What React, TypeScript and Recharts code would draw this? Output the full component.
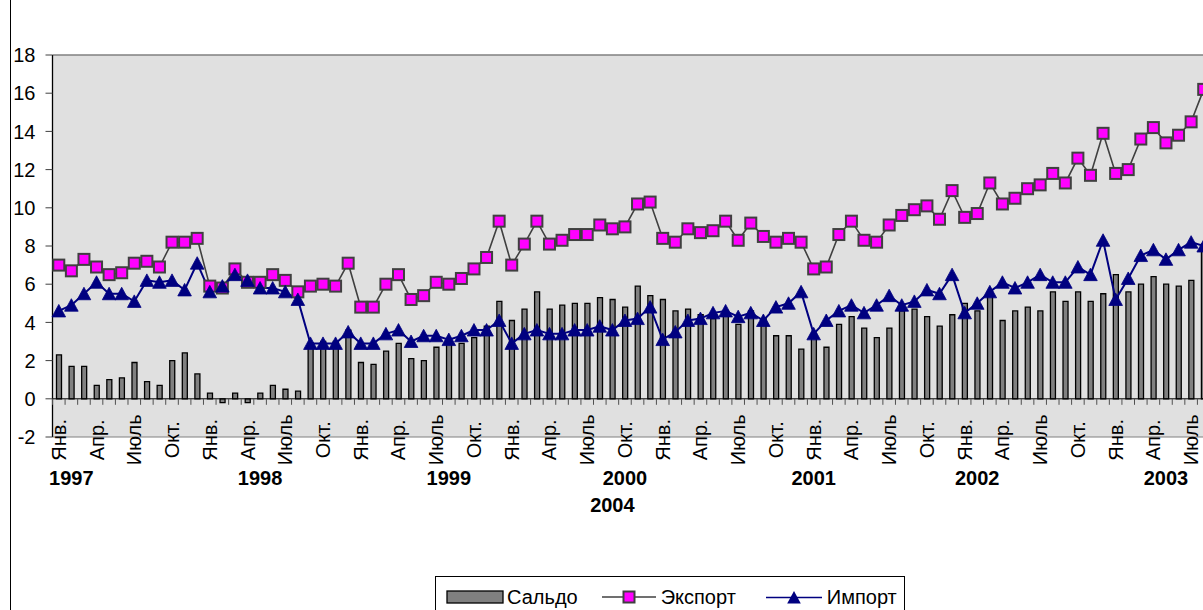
import React from 'react';
import { ComposedChart, Bar, Line, XAxis, YAxis, CartesianGrid, ReferenceLine, Legend } from 'recharts';

// ---- data ----
const years = [1997, 1998, 1999, 2000, 2001, 2002, 2003, 2004];
const monthTickLabels = ['Янв.', '', '', 'Апр.', '', '', 'Июль', '', '', 'Окт.', '', ''];
const monthCount = 92; // Jan 1997 .. Aug 2004

const saldo = [
  2.3, 1.7, 1.7, 0.7, 1.0, 1.1, 1.9, 0.9, 0.7, 2.0, 2.4, 1.3,
  0.3, -0.2, 0.3, -0.2, 0.3, 0.7, 0.5, 0.4, 2.9, 3.0, 3.0, 3.6,
  1.9, 1.8, 2.5, 2.9, 2.1, 2.0, 2.7, 2.9, 2.9, 3.2, 3.8, 5.1,
  4.1, 4.7, 5.6, 4.7, 4.9, 5.0, 5.0, 5.3, 5.2, 4.8, 5.9, 5.4,
  5.2, 4.6, 4.7, 4.4, 4.2, 4.6, 3.9, 4.6, 4.2, 3.3, 3.3, 2.6,
  3.4, 2.7, 3.9, 4.3, 3.7, 3.2, 3.7, 4.6, 4.7, 4.3, 3.8, 4.4,
  5.0, 4.6, 5.6, 4.1, 4.6, 4.8, 4.6, 5.6, 5.1, 5.6, 5.1, 5.5,
  6.5, 5.6, 6.0, 6.4, 6.0, 5.9, 6.2, 8.1,
];
const exportVals = [
  7.0, 6.7, 7.3, 6.9, 6.5, 6.6, 7.1, 7.2, 6.9, 8.2, 8.2, 8.4,
  5.9, 5.8, 6.8, 6.1, 6.1, 6.5, 6.2, 5.6, 5.9, 6.0, 5.9, 7.1,
  4.8, 4.8, 6.0, 6.5, 5.2, 5.4, 6.1, 6.0, 6.3, 6.8, 7.4, 9.3,
  7.0, 8.1, 9.3, 8.1, 8.3, 8.6, 8.6, 9.1, 8.9, 9.0, 10.2, 10.3,
  8.4, 8.2, 8.9, 8.7, 8.8, 9.3, 8.3, 9.2, 8.5, 8.2, 8.4, 8.2,
  6.8, 6.9, 8.6, 9.3, 8.3, 8.2, 9.1, 9.6, 9.9, 10.1, 9.4, 10.9,
  9.5, 9.7, 11.3, 10.2, 10.5, 11.0, 11.2, 11.8, 11.3, 12.6, 11.7, 13.9,
  11.8, 12.0, 13.6, 14.2, 13.4, 13.8, 14.5, 16.2,
];
const importVals = [
  4.6, 4.9, 5.5, 6.1, 5.5, 5.5, 5.1, 6.2, 6.1, 6.2, 5.7, 7.1,
  5.6, 5.9, 6.5, 6.2, 5.8, 5.8, 5.6, 5.2, 2.9, 2.9, 2.9, 3.5,
  2.9, 2.9, 3.4, 3.6, 3.0, 3.3, 3.3, 3.1, 3.3, 3.6, 3.6, 4.1,
  2.9, 3.4, 3.6, 3.4, 3.4, 3.6, 3.6, 3.8, 3.6, 4.1, 4.2, 4.8,
  3.1, 3.5, 4.1, 4.2, 4.5, 4.6, 4.3, 4.5, 4.1, 4.8, 5.0, 5.6,
  3.4, 4.1, 4.6, 4.9, 4.5, 4.9, 5.4, 4.9, 5.1, 5.7, 5.5, 6.5,
  4.5, 5.0, 5.6, 6.1, 5.8, 6.1, 6.5, 6.1, 6.1, 6.9, 6.5, 8.3,
  5.2, 6.3, 7.5, 7.8, 7.3, 7.8, 8.2, 8.0,
];
const yTicks = [-2, 0, 2, 4, 6, 8, 10, 12, 14, 16, 18];
const yearLabels = [
  { index: 1, text: '1997', row: 0 },
  { index: 16, text: '1998', row: 0 },
  { index: 31, text: '1999', row: 0 },
  { index: 45, text: '2000', row: 0 },
  { index: 44, text: '2004', row: 1 },
  { index: 60, text: '2001', row: 0 },
  { index: 73, text: '2002', row: 0 },
  { index: 88, text: '2003', row: 0 },
];
const seriesNames = { saldo: 'Сальдо', exp: 'Экспорт', imp: 'Импорт' };
const legendOrder = ['saldo', 'exp', 'imp'];

const categories: string[] = [];
for (let i = 0; i < monthCount; i++) {
  const y = years[Math.floor(i / 12)];
  const m = (i % 12) + 1;
  categories.push(`${y}-${m < 10 ? '0' + m : m}`);
}
const data = categories.map((c, i) => ({
  cat: c,
  saldo: saldo[i],
  exp: exportVals[i],
  imp: importVals[i],
}));

// ---- layout constants ----
const FONT = '"Liberation Sans", Arial, sans-serif';
const CHART_W = 1212;
const CHART_H = 610;
const PLOT_TOP = 55;
const PLOT_LEFT = 52.5;
const PLOT_RIGHT_MARGIN = 2;
const X_AXIS_H = 173;
const PLOT_H = CHART_H - PLOT_TOP - X_AXIS_H;
const PLOT_W = CHART_W - PLOT_LEFT - PLOT_RIGHT_MARGIN;
const Y_MIN = -2;
const Y_MAX = 18;
const ZERO_OFFSET = (PLOT_H * (0 - Y_MIN)) / (Y_MAX - Y_MIN);
const STEP = PLOT_W / monthCount;

const MonthTick = (props: any) => {
  const { x, y, index } = props;
  const zeroY = y - ZERO_OFFSET;
  const label = monthTickLabels[index % 12];
  const yl = yearLabels.filter((l) => l.index === index);
  const bx = x - STEP / 2;
  return (
    <g>
      <line x1={bx} x2={bx} y1={zeroY} y2={zeroY + 6} stroke="#505050" strokeWidth={1} />
      {label ? (
        <text
          transform={`translate(${x},${zeroY + 41}) rotate(-90)`}
          textAnchor="middle"
          dominantBaseline="central"
          fontSize={20}
          fontFamily={FONT}
          fill="#000"
        >
          {label}
        </text>
      ) : null}
      {yl.map((l) => (
        <text
          key={l.text}
          x={x}
          y={y + (l.row === 0 ? 48 : 75)}
          textAnchor="middle"
          fontSize={20}
          fontWeight="bold"
          fontFamily={FONT}
          fill="#000"
        >
          {l.text}
        </text>
      ))}
    </g>
  );
};

const SquareDot = (props: any) => {
  const { cx, cy } = props;
  if (cx == null || cy == null) return null;
  return <rect x={cx - 5.5} y={cy - 5.5} width={11} height={11} fill="#FF00FF" stroke="#404040" strokeWidth={2} />;
};

const TriangleDot = (props: any) => {
  const { cx, cy } = props;
  if (cx == null || cy == null) return null;
  return (
    <path
      d={`M${cx},${cy - 6.5} L${cx + 6.8},${cy + 6} L${cx - 6.8},${cy + 6} Z`}
      fill="#000080"
      stroke="#000080"
      strokeWidth={0.8}
    />
  );
};

const LegendSymbol = ({ dataKey }: { dataKey: string }) => {
  if (dataKey === 'saldo') {
    return (
      <svg width={58} height={14} style={{ display: 'block' }}>
        <rect x={1} y={1} width={56} height={12} fill="#808080" stroke="#000" strokeWidth={1.3} />
      </svg>
    );
  }
  if (dataKey === 'exp') {
    return (
      <svg width={54} height={14} style={{ display: 'block' }}>
        <line x1={0} x2={54} y1={7} y2={7} stroke="#404040" strokeWidth={1.5} />
        <rect x={21.5} y={1.5} width={11} height={11} fill="#FF00FF" stroke="#404040" strokeWidth={2} />
      </svg>
    );
  }
  return (
    <svg width={56} height={14} style={{ display: 'block' }}>
      <line x1={0} x2={56} y1={7.5} y2={7.5} stroke="#000080" strokeWidth={1.5} />
      <path d="M28,1 L34.8,13.5 L21.2,13.5 Z" fill="#000080" />
    </svg>
  );
};

const renderLegend = (props: any) => {
  const payload = [...(props.payload || [])].sort(
    (a: any, b: any) => legendOrder.indexOf(a.dataKey) - legendOrder.indexOf(b.dataKey)
  );
  return (
    <div
      style={{
        boxSizing: 'border-box',
        width: 470,
        height: 42,
        border: '1px solid #000',
        background: '#fff',
        display: 'flex',
        alignItems: 'center',
        paddingLeft: 10,
        fontFamily: FONT,
        fontSize: 20,
        color: '#000',
      }}
    >
      {payload.map((entry: any, i: number) => (
        <div
          key={entry.dataKey}
          style={{ display: 'flex', alignItems: 'center', marginRight: i === 0 ? 24 : 30 }}
        >
          <LegendSymbol dataKey={entry.dataKey} />
          <span style={{ marginLeft: entry.dataKey === 'saldo' ? 3 : 5 }}>{entry.value}</span>
        </div>
      ))}
    </div>
  );
};

export default function App() {
  return (
    <div
      style={{
        position: 'relative',
        width: 1203,
        height: 610,
        overflow: 'hidden',
        background: '#fff',
        fontFamily: FONT,
      }}
    >
      <style>{'body{margin:0;overflow:hidden}'}</style>
      <div style={{ position: 'absolute', left: 10, top: 0, width: 1, height: 610, background: '#000' }} />
      <ComposedChart
        width={CHART_W}
        height={CHART_H}
        data={data}
        margin={{ top: PLOT_TOP, right: PLOT_RIGHT_MARGIN, bottom: 0, left: 0 }}
        barCategoryGap={0}
      >
        <CartesianGrid horizontal={false} vertical={false} fill="#E0E0E0" />
        <XAxis
          dataKey="cat"
          interval={0}
          height={X_AXIS_H}
          tick={<MonthTick />}
          tickLine={false}
          axisLine={false}
          tickSize={0}
          tickMargin={0}
        />
        <YAxis
          domain={[Y_MIN, Y_MAX]}
          ticks={yTicks}
          interval={0}
          allowDataOverflow
          width={PLOT_LEFT}
          tick={{ fontSize: 20, fill: '#000', fontFamily: FONT }}
          tickSize={7}
          tickMargin={10}
          tickLine={{ stroke: '#404040' }}
          axisLine={{ stroke: '#000', strokeWidth: 1.3 }}
        />
        <ReferenceLine y={Y_MAX} stroke="#808080" strokeWidth={1.5} />
        <ReferenceLine y={Y_MIN} stroke="#808080" strokeWidth={1} />
        <ReferenceLine y={0} stroke="#000" strokeWidth={1} />
        <Legend
          verticalAlign="middle"
          align="center"
          layout="horizontal"
          wrapperStyle={{ left: 435, top: 576, width: 470, height: 42 }}
          content={renderLegend}
        />
        <Bar
          dataKey="saldo"
          name={seriesNames.saldo}
          fill="#808080"
          stroke="#000"
          strokeWidth={1.3}
          barSize={5}
          isAnimationActive={false}
        />
        <Line
          dataKey="exp"
          name={seriesNames.exp}
          type="linear"
          stroke="#404040"
          strokeWidth={1.6}
          dot={<SquareDot />}
          activeDot={false}
          isAnimationActive={false}
        />
        <Line
          dataKey="imp"
          name={seriesNames.imp}
          type="linear"
          stroke="#000080"
          strokeWidth={2}
          dot={<TriangleDot />}
          activeDot={false}
          isAnimationActive={false}
        />
      </ComposedChart>
    </div>
  );
}
